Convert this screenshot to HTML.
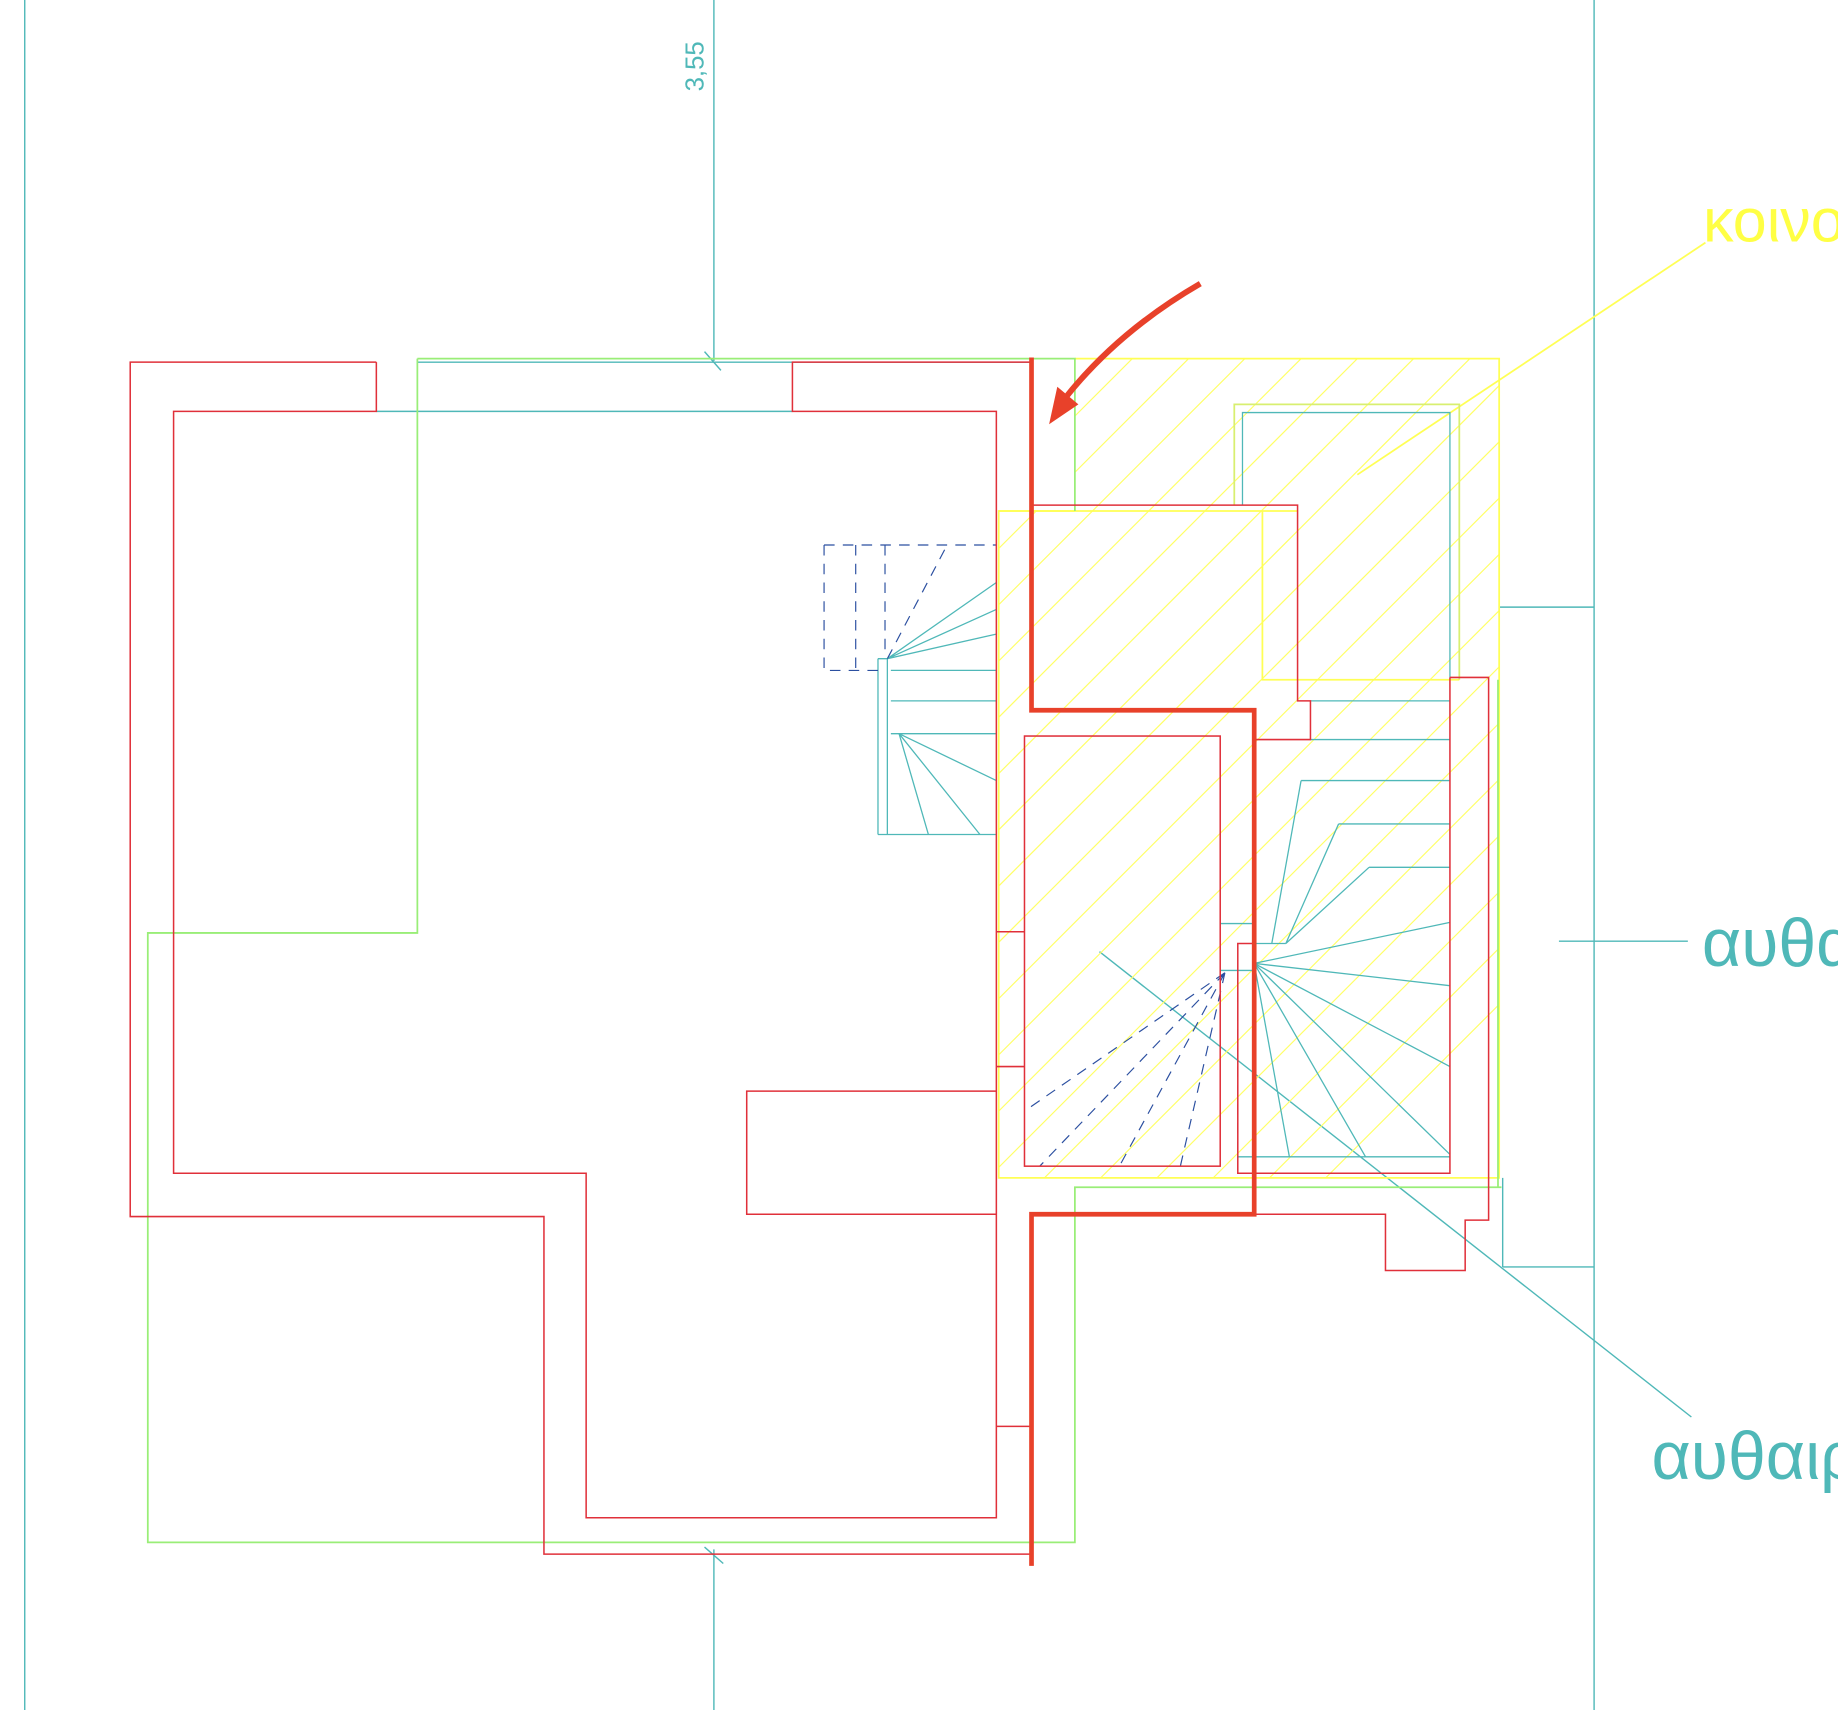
<!DOCTYPE html>
<html><head><meta charset="utf-8"><style>
html,body{margin:0;padding:0;background:#fff;}
svg{display:block;}
</style></head><body>
<svg width="1838" height="1710" viewBox="0 0 1568 1459" xmlns="http://www.w3.org/2000/svg" font-family="Liberation Sans, DejaVu Sans, sans-serif">
<defs>
<clipPath id="hc"><path d="M917,306 H1279 V1005 H852 V436 H917 Z"/></clipPath>
</defs>
<rect width="1568" height="1459" fill="#fff"/>
<g stroke="#4fb8b8" stroke-width="1.2" fill="none">
<line x1="21" y1="0" x2="21" y2="1459"/>
<line x1="609" y1="0" x2="609" y2="308"/>
<line x1="609" y1="1322" x2="609" y2="1459"/>
<line x1="1360" y1="0" x2="1360" y2="1459"/>
<line x1="601" y1="300" x2="615" y2="316"/>
<line x1="601" y1="1320" x2="617" y2="1334"/>
<line x1="1279" y1="518" x2="1360" y2="518"/>
<line x1="1282" y1="1081" x2="1360" y2="1081"/>
<line x1="1282" y1="1005" x2="1282" y2="1081"/>
<line x1="1330" y1="803" x2="1440" y2="803"/>
<line x1="938" y1="812" x2="1443" y2="1209"/>
<line x1="321" y1="351" x2="676" y2="351"/>
<line x1="356" y1="309" x2="880" y2="309"/>
</g>
<text x="600" y="78" transform="rotate(-90 600 78)" fill="#4fb8b8" font-size="22">3,55</text>
<g clip-path="url(#hc)" stroke="#ffff66" stroke-width="1">
<path d="M700,1100 L1500,300 M748,1100 L1548,300 M796,1100 L1596,300 M844,1100 L1644,300 M892,1100 L1692,300 M940,1100 L1740,300 M988,1100 L1788,300 M1036,1100 L1836,300 M652,1100 L1452,300 M604,1100 L1404,300 M556,1100 L1356,300 M508,1100 L1308,300 M460,1100 L1260,300 M412,1100 L1212,300 M364,1100 L1164,300 M316,1100 L1116,300 M268,1100 L1068,300 M220,1100 L1020,300 M172,1100 L972,300 M124,1100 L924,300 M76,1100 L876,300 M28,1100 L828,300"/>
</g>
<g stroke="#ffff55" stroke-width="1.5" fill="none">
<path d="M917,306 H1279 V1005 H852 V436 H917"/>
<path d="M852,436 H1107"/>
<path d="M1077,436 V580 H1245"/>
<line x1="1158" y1="405" x2="1455" y2="207"/>
</g>
<g stroke="#d8ef70" stroke-width="1.5" fill="none">
<path d="M1053,431 V345 H1245 V580"/>
</g>
<g stroke="#99ee77" stroke-width="1.5" fill="none">
<path d="M356,306 V796 H126 V1316 H917 V1013 H1281"/>
<path d="M356,306 H917 V436"/>
<line x1="1278" y1="580" x2="1278" y2="1013"/>
</g>
<g stroke="#4fb8b8" stroke-width="1.1" fill="none">
<path d="M1060,431 V352 H1237 V578"/>
<path d="M1118,598 H1237 M1118,631 H1237 M1110,666 H1237 M1142,703 H1237 M1168,740 H1237"/>
<path d="M1085,805 L1110,666 M1097,805 L1142,703 M1097,805 L1168,740 M1070,805 H1097"/>
<path d="M1070,822 L1237,787 M1070,822 L1237,841 M1070,822 L1237,910 M1070,822 L1237,985 M1070,822 L1165,987 M1070,822 L1100,987"/>
<path d="M1056,987 H1237"/>
<path d="M1041,788 H1070 M1041,828 H1070"/>
<path d="M749,562 V712 M757,562 V712 M749,562 H757 M760,572 H850 M760,598 H850 M760,626 H850 M749,712 H850"/>
<path d="M757,562 L850,497 M757,562 L850,541 M757,562 L850,520 M767,626 L850,666 M767,626 L836,712 M767,626 L792,712"/>
</g>
<g stroke="#2b4fa0" stroke-width="1" fill="none" stroke-dasharray="9,7">
<path d="M703,465 H850 M703,465 V572 H750 M730,465 V572 M755,465 V560 M757,562 L808,465"/>
<path d="M1045,830 L874,948 M1045,830 L887,995 M1045,830 L955,995 M1045,830 L1007,995 M1056,830 V1000"/>
</g>
<g stroke="#e0303a" stroke-width="1.3" fill="none">
<path d="M321,309 H111 V1038 H464 V1326 H880"/>
<path d="M321,309 V351 H148 V1001 H500 V1295 H850 V351 H676 V309 H880"/>
<path d="M850,931 H637 V1036 H850"/>
<path d="M850,795 H874 M850,910 H874 M850,1217 H880"/>
<path d="M880,431 H1107 V598 H1118 V631 H1070"/>
<path d="M1237,578 H1270 V1041 H1250 V1084 H1182 V1036 H1070"/>
<rect x="874" y="628" width="167" height="367"/>
<path d="M1070,805 H1056 V1001 H1237 V578"/>
</g>
<path d="M880,305 V606 H1070 V1036 H880 V1336" stroke="#e8412a" stroke-width="4" fill="none"/>
<path d="M1024,242 Q955,282 910,338" stroke="#e8412a" stroke-width="5" fill="none"/>
<polygon points="895,362 902,330 920,345" fill="#e8412a"/>
<text x="1453" y="206" fill="#ffff44" font-size="52">κοινο</text>
<text x="1452" y="824" fill="#4fb8b8" font-size="58">αυθα</text>
<text x="1409" y="1262" fill="#4fb8b8" font-size="58">αυθαιρ</text>
</svg>
</body></html>
